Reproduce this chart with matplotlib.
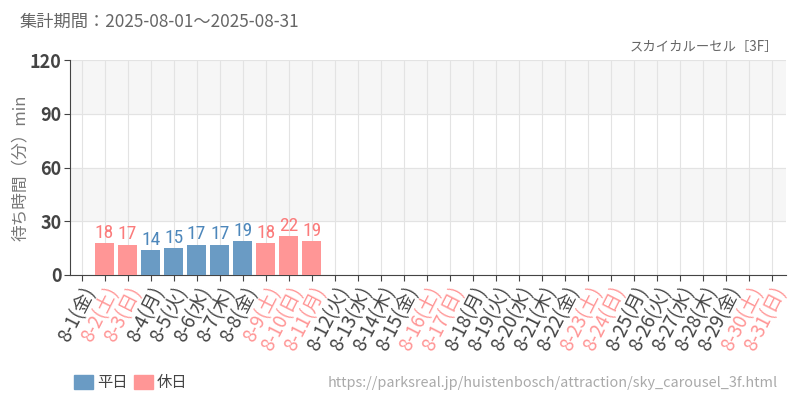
import matplotlib
matplotlib.use("Agg")
from matplotlib import pyplot as plt
from matplotlib.patches import Rectangle

plt.rcParams['font.family'] = ['Noto Sans CJK JP', 'DejaVu Sans']

days = [f"8-{d}" for d in range(1, 32)]
weekdays = ["金", "土", "日", "月", "火", "水", "木"] * 5
weekdays = weekdays[:31]
holidays = {2, 3, 9, 10, 11, 16, 17, 23, 24, 30, 31}
waits = [None, 18, 17, 14, 15, 17, 17, 19, 18, 22, 19] + [None] * 20

blue = "#6a9bc4"
pink = "#ff9696"
blue_txt = "#4d87bb"
pink_txt = "#fb7b7b"

fig = plt.figure(figsize=(8, 4), dpi=100)
ax = fig.add_axes([70 / 800, 1 - 275 / 400, 716 / 800, 215 / 400])

# alternating bands
for lo, hi in [(30, 60), (90, 120)]:
    ax.axhspan(lo, hi, color="#f6f6f6", zorder=0)

x = list(range(31))
for i, v in enumerate(waits):
    if v is None:
        continue
    hol = (i + 1) in holidays
    ax.bar(i, v, width=0.82, color=pink if hol else blue, zorder=3)
    ax.text(i, v + 0.6, str(v), ha="center", va="bottom", fontsize=14,
            color=pink_txt if hol else blue_txt, zorder=4,
            family=['Roboto Condensed', 'DejaVu Sans'])

ax.set_xlim(-0.5, 30.6)
ax.set_ylim(0, 120)
ax.set_yticks([0, 30, 60, 90, 120])
ax.set_xticks(x)
ax.grid(True, color="#e3e3e3", lw=0.8, zorder=1)
ax.set_axisbelow(True)

labels = [f"{d}({w})" for d, w in zip(days, weekdays)]
ax.set_xticklabels(labels, rotation=63, ha="right", rotation_mode="anchor", fontsize=13.5)
for i, t in enumerate(ax.get_xticklabels()):
    t.set_color(pink if (i + 1) in holidays else "#444444")

for t in ax.get_yticklabels():
    t.set_fontsize(13)
    t.set_color("#444444")
    t.set_fontweight("bold")

for s in ["top", "right"]:
    ax.spines[s].set_visible(False)
ax.spines["left"].set_color("#444444")
ax.spines["bottom"].set_color("#444444")
ax.tick_params(axis="both", length=4, color="#444444", pad=2)

ax.set_ylabel("待ち時間（分）min", color="#777777", fontsize=12, labelpad=0.5)

fig.text(20 / 800, 1 - 22 / 400, "集計期間：2025-08-01～2025-08-31", fontsize=12.4,
         color="#666666", va="center")
fig.text(778 / 800, 1 - 47 / 400, "スカイカルーセル［3F］", fontsize=9.6,
         color="#666666", va="center", ha="right")

# legend
fig.patches.append(Rectangle((74 / 800, 1 - 389 / 400), 19 / 800, 14 / 400,
                             color=blue, transform=fig.transFigure))
fig.text(97 / 800, 1 - 382 / 400, "平日", fontsize=11, color="#444444", va="center")
fig.patches.append(Rectangle((134 / 800, 1 - 389 / 400), 19 / 800, 14 / 400,
                             color=pink, transform=fig.transFigure))
fig.text(157 / 800, 1 - 382 / 400, "休日", fontsize=11, color="#444444", va="center")
fig.text(778 / 800, 1 - 383 / 400,
         "https://parksreal.jp/huistenbosch/attraction/sky_carousel_3f.html",
         fontsize=10.4, color="#aaaaaa", va="center", ha="right")

fig.savefig("out.png")
